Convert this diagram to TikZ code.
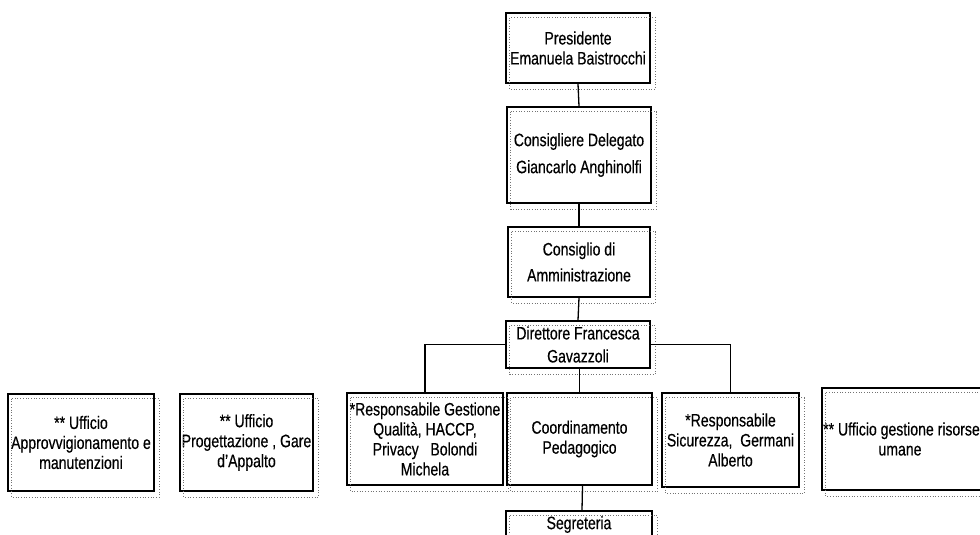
\documentclass[tikz,border=0pt]{standalone}
\usepackage{fontspec}
\setmainfont[FakeStretch=0.78,FakeBold=0.4]{Liberation Sans}
\begin{document}
\begin{tikzpicture}[x=1pt,y=-1pt,
  box/.style={draw=black, line width=1.6pt, inner sep=0pt, align=center,
    font=\fontsize{18}{20}\selectfont},
  shd/.style={draw=black!55, dotted, line width=0.7pt},
  link/.style={draw=black, line width=1.3pt}]
\useasboundingbox (0,0) rectangle (980,535);
\begin{scope}
\clip (0,0) rectangle (980,535);
\fill[white] (0,0) rectangle (980,535);
\node[box, minimum width=144pt, minimum height=70pt] (pres) at (578,48)
  {Presidente\\Emanuela Baistrocchi};
\node[box, minimum width=144pt, minimum height=96pt, font=\fontsize{18}{27}\selectfont] (cdel) at (579,155)
  {Consigliere Delegato\\Giancarlo Anghinolfi};
\node[box, minimum width=142pt, minimum height=70pt, font=\fontsize{18}{26}\selectfont] (cda) at (579,262)
  {Consiglio di\\Amministrazione};
\node[box, minimum width=144pt, minimum height=47pt, font=\fontsize{18}{23}\selectfont] (dir) at (578,344.5)
  {Direttore Francesca\\Gavazzoli};
\node[box, minimum width=156pt, minimum height=92pt] (rgq) at (425,439)
  {*Responsabile Gestione\\Qualità, HACCP,\\Privacy \ \ Bolondi\\Michela};
\node[box, minimum width=145pt, minimum height=92pt] (coord) at (579.5,439)
  {Coordinamento\\Pedagogico};
\node[box, minimum width=137pt, minimum height=94pt] (rsic) at (730.5,440)
  {*Responsabile\\Sicurezza, \ Germani\\Alberto};
\node[box, minimum width=164pt, minimum height=102pt] (urs) at (904,439)
  {** Ufficio gestione risorse\hspace*{5pt}\\umane\hspace*{8pt}};
\node[box, minimum width=146pt, minimum height=97pt] (uapp) at (81,442.5)
  {** Ufficio\\Approvvigionamento e\\manutenzioni};
\node[box, minimum width=133pt, minimum height=97pt] (uprog) at (246.5,442.5)
  {** Ufficio\\Progettazione , Gare\\d'Appalto};
\node[box, minimum width=146pt, minimum height=27pt] (segr) at (579,524.5)
  {Segreteria};
\foreach \n in {pres,cdel,cda,dir,rgq,coord,rsic,urs,uapp,uprog,segr}{
  \draw[shd] ([shift={(4.5,5.5)}]\n.north west) rectangle ([shift={(4.5,5.5)}]\n.south east);
}
\draw[link] (pres.south) -- (cdel.north);
\draw[link] (cdel.south) -- (cda.north);
\draw[link] (cda.south) -- (dir.north);
\draw[link] (dir.west) -| (rgq.north);
\draw[link] (dir.east) -| (rsic.north);
\draw[link] (dir.south -| coord.north) -- (coord.north);
\draw[link] ([xshift=3pt]coord.south) -- ([xshift=3pt]segr.north);
\end{scope}
\end{tikzpicture}
\end{document}
